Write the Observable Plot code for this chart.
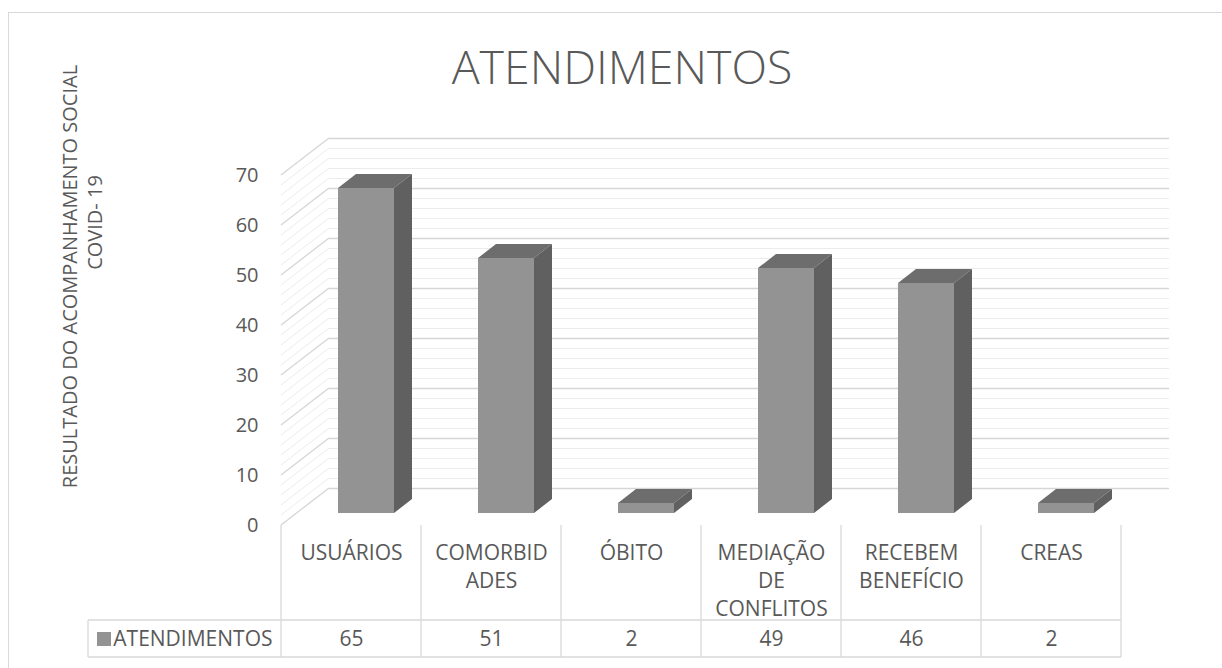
<!DOCTYPE html>
<html>
<head>
<meta charset="utf-8">
<script src="https://cdn.jsdelivr.net/npm/d3@7"></script>
<script src="https://cdn.jsdelivr.net/npm/@observablehq/plot@0.6"></script>
<style>
  body { margin: 0; background: #fff; }
  #wrap { position: relative; width: 1222px; height: 668px; overflow: hidden; font-family: "Open Sans", sans-serif; }
  #frame { position: absolute; left: 8px; top: 12px; width: 1240px; height: 700px; border: 1px solid #d9d9d9; box-sizing: border-box; pointer-events: none; }
  #title { position: relative; height: 57px; padding-top: 43px; width: 1244px; text-align: center; font-size: 46.5px; line-height: 46px; font-weight: 300; color: #595959; }
  #chart svg { display: block; }
</style>
</head>
<body>
<div id="wrap">
  <div id="frame"></div>
  <div id="title"></div>
  <div id="chart"></div>
</div>
<script>
// ---- data ----
const chartTitle = "ATENDIMENTOS";
const seriesName = "ATENDIMENTOS";
const categories = ["USUÁRIOS", "COMORBIDADES", "ÓBITO", "MEDIAÇÃO DE CONFLITOS", "RECEBEM BENEFÍCIO", "CREAS"];
const categoryLabels = ["USUÁRIOS", "COMORBID\nADES", "ÓBITO", "MEDIAÇÃO\nDE\nCONFLITOS", "RECEBEM\nBENEFÍCIO", "CREAS"];
const values = [65, 51, 2, 49, 46, 2];
const yTicks = [0, 10, 20, 30, 40, 50, 60, 70];
const yTitleLines = ["RESULTADO DO ACOMPANHAMENTO SOCIAL", "COVID- 19"];

// ---- style / layout ----
const W = 1222, H = 568;
const M = { left: 281, right: 101, top: 75, bottom: 143 };
const DEPTH = { dx: 48, dy: -37 };      // back wall offset
const BAR_OFF = { dx: 15, dy: -12 };    // bar front offset from front plane
const BAR_DEPTH = { dx: 18, dy: -14 };  // bar depth
const TEXT = "#595959";
const GRID_MAJOR = "#d6d6d6", GRID_MINOR = "#ececec", TABLE = "#d9d9d9";
const FRONT = "#939393", SIDE = "#606060", TOP = "#6d6d6d";

document.getElementById("title").textContent = chartTitle;

const data = categories.map((c, i) => ({ c, label: categoryLabels[i], v: values[i] }));
const gridVals = d3.range(0, 71, 2);

function leftWall(index, scales, channels, dims) {
  const y = scales.y, x0 = dims.marginLeft;
  const g = d3.create("svg:g");
  for (const v of gridVals) {
    g.append("line")
      .attr("x1", x0).attr("y1", y(v))
      .attr("x2", x0 + DEPTH.dx).attr("y2", y(v) + DEPTH.dy)
      .attr("stroke", v % 10 === 0 ? GRID_MAJOR : GRID_MINOR)
      .attr("stroke-width", v % 10 === 0 ? 1.3 : 1);
  }
  return g.node();
}

function barFaces(index, scales, channels, dims) {
  const x = scales.x, y = scales.y, bw = x.bandwidth();
  const g = d3.create("svg:g");
  for (const d of data) {
    const xl = x(d.c) + 42 + BAR_OFF.dx, xr = x(d.c) + bw - 42 + BAR_OFF.dx;
    const yt = y(d.v) + BAR_OFF.dy, yb = y(0) + BAR_OFF.dy;
    const sx = BAR_DEPTH.dx, sy = BAR_DEPTH.dy;
    g.append("polygon")
      .attr("points", [[xl, yt], [xl + sx, yt + sy], [xr + sx, yt + sy], [xr, yt]].join(" "))
      .attr("fill", TOP);
    g.append("polygon")
      .attr("points", [[xr, yt], [xr + sx, yt + sy], [xr + sx, yb + sy], [xr, yb]].join(" "))
      .attr("fill", SIDE);
  }
  return g.node();
}

function table(index, scales, channels, dims) {
  const x = scales.x;
  const x0 = dims.marginLeft, x1 = dims.width - dims.marginRight;
  const yTop = dims.height - dims.marginBottom;
  const rowTop = yTop + 95, rowBot = yTop + 132;
  const legendLeft = x0 - 193;
  const g = d3.create("svg:g").attr("stroke", TABLE).attr("stroke-width", 1.3);
  for (const c of categories) {
    g.append("line").attr("x1", x(c)).attr("x2", x(c)).attr("y1", yTop).attr("y2", rowBot);
  }
  g.append("line").attr("x1", x1).attr("x2", x1).attr("y1", yTop).attr("y2", rowBot);
  g.append("line").attr("x1", legendLeft).attr("x2", x1).attr("y1", rowTop).attr("y2", rowTop);
  g.append("line").attr("x1", legendLeft).attr("x2", x1).attr("y1", rowBot).attr("y2", rowBot);
  g.append("line").attr("x1", legendLeft).attr("x2", legendLeft).attr("y1", rowTop).attr("y2", rowBot);
  g.append("rect").attr("x", legendLeft + 9).attr("y", rowTop + 12).attr("width", 14).attr("height", 14)
    .attr("fill", FRONT).attr("stroke", "none");
  return g.node();
}

const frameMidY = (M.top + (H - M.bottom)) / 2;

const chart = Plot.plot({
  width: W,
  height: H,
  marginLeft: M.left,
  marginRight: M.right,
  marginTop: M.top,
  marginBottom: M.bottom,
  style: { fontFamily: "Open Sans, sans-serif", fontSize: "20px", color: TEXT, background: "transparent", overflow: "visible" },
  x: { type: "band", domain: categories, padding: 0, axis: null },
  y: { domain: [0, 70], axis: null },
  marks: [
    // back wall gridlines
    Plot.ruleY(gridVals, { y: d => d, dx: DEPTH.dx, dy: DEPTH.dy, stroke: d => d % 10 === 0 ? GRID_MAJOR : GRID_MINOR, strokeWidth: d => d % 10 === 0 ? 1.3 : 1 }),
    leftWall,
    // y axis labels
    Plot.axisY(yTicks, { tickSize: 0, tickPadding: 23, fontSize: 20, fill: TEXT, label: null }),
    // bars
    Plot.barY(data, { x: "c", y: "v", insetLeft: 42, insetRight: 42, dx: BAR_OFF.dx, dy: BAR_OFF.dy, fill: FRONT }),
    barFaces,
    // data table
    table,
    Plot.text(data, { x: "c", text: "label", frameAnchor: "bottom", lineAnchor: "top", dy: 15, lineHeight: 1.33, fontSize: 21, fill: TEXT }),
    Plot.text(data, { x: "c", text: d => String(d.v), frameAnchor: "bottom", lineAnchor: "middle", dy: 114, fontSize: 21, fill: TEXT }),
    Plot.text([seriesName], { text: d => d, frameAnchor: "bottom-left", textAnchor: "end", lineAnchor: "middle", dx: -9, dy: 114, fontSize: 21, fill: TEXT }),
    // y-axis title (two lines)
    Plot.text([yTitleLines[0]], { text: d => d, frameAnchor: "left", textAnchor: "middle", rotate: -90, dx: 70 - M.left, dy: 276 - 100 - frameMidY, lineAnchor: "middle", fontSize: 20, fill: TEXT }),
    Plot.text([yTitleLines[1]], { text: d => d, frameAnchor: "left", textAnchor: "middle", rotate: -90, dx: 95 - M.left, dy: 222 - 100 - frameMidY, lineAnchor: "middle", fontSize: 20, fill: TEXT })
  ]
});
document.getElementById("chart").appendChild(chart);
</script>
</body>
</html>
